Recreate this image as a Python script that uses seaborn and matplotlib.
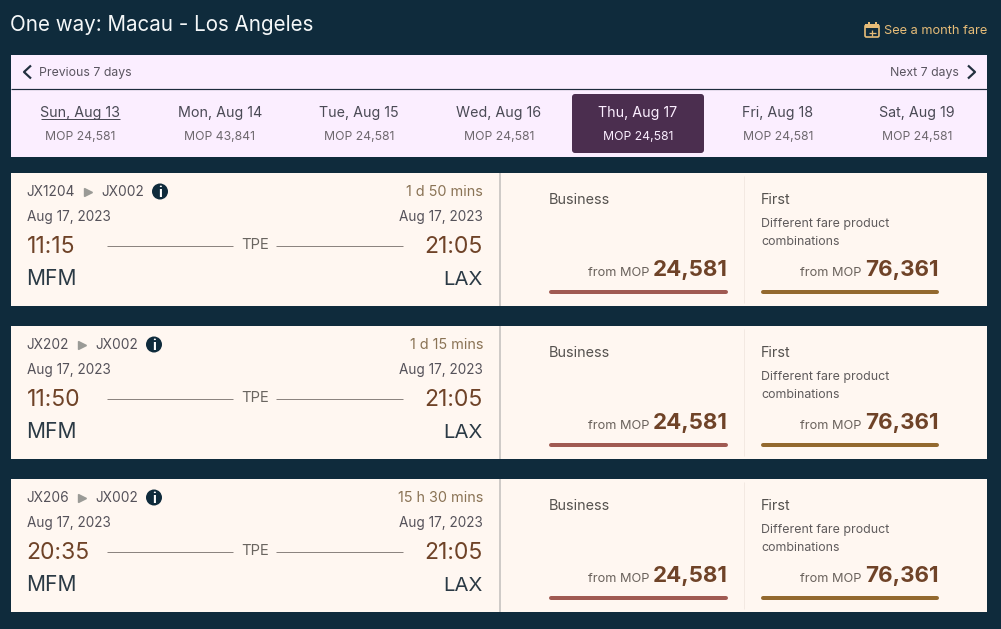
import matplotlib
matplotlib.use("Agg")
import matplotlib.pyplot as plt
from matplotlib.patches import Rectangle, FancyBboxPatch, Circle
import seaborn as sns
import pandas as pd

# ---- data ----
title = "One way: Macau - Los Angeles"
day_labels = ["Sun, Aug 13", "Mon, Aug 14", "Tue, Aug 15", "Wed, Aug 16", "Thu, Aug 17", "Fri, Aug 18", "Sat, Aug 19"]
day_fares = ["MOP 24,581", "MOP 43,841", "MOP 24,581", "MOP 24,581", "MOP 24,581", "MOP 24,581", "MOP 24,581"]
first_legs = ["JX1204", "JX202", "JX206"]
second_legs = ["JX002", "JX002", "JX002"]
durations = ["1 d 50 mins", "1 d 15 mins", "15 h 30 mins"]
departs = ["11:15", "11:50", "20:35"]
arrives = ["21:05", "21:05", "21:05"]
business_fares = ["24,581", "24,581", "24,581"]
first_fares = ["76,361", "76,361", "76,361"]

# ---- style ----
BG = "#0F2B3C"; NAV = "#FBEEFF"; CARD = "#FFF7F1"; SEL = "#4B2E4F"
BROWN = "#6F4328"; GREY = "#55525A"; DARK = "#2B3A45"
FONT = "Inter"

sns.set_theme(style="white")
plt.rcParams["font.family"] = [FONT, "DejaVu Sans"]

fig = plt.figure(figsize=(10.01, 6.29), dpi=100, facecolor=BG)
ax = fig.add_axes([0, 0, 1, 1])
ax.set_xlim(0, 1001); ax.set_ylim(629, 0); ax.axis("off")


def t(x, y, s, px, color=GREY, ha="left", weight="normal", **kw):
    return ax.text(x, y, s, fontsize=px * 0.72, color=color, ha=ha, va="baseline", weight=weight, **kw)


def rect(x0, y0, x1, y1, color, z=1):
    ax.add_patch(Rectangle((x0, y0), x1 - x0, y1 - y0, fc=color, ec="none", zorder=z))


def seg(xs, ys, color, px, cap="butt"):
    df = pd.DataFrame({"x": xs, "y": ys})
    sns.lineplot(data=df, x="x", y="y", ax=ax, color=color, linewidth=px * 0.72,
                 solid_capstyle=cap, sort=False, estimator=None, legend=False, zorder=3)
    ax.set_xlim(0, 1001); ax.set_ylim(629, 0); ax.axis("off")


# header
t(10.5, 31, title, 20.6, color="#F4F7F8")
GOLD = "#E6BC78"
t(884, 34, "See a month fare", 12.8, color=GOLD)
ax.add_patch(FancyBboxPatch((865, 25), 14, 12, boxstyle="round,pad=0,rounding_size=1.5", fc="none", ec=GOLD, lw=1.2, zorder=3))
rect(865, 24, 879, 28, GOLD, 3)
rect(868, 22, 870, 25, GOLD, 3); rect(875, 22, 877, 25, GOLD, 3)
seg([868.5, 875.5], [32.5, 32.5], GOLD, 1.3); seg([872, 872], [29.5, 35.5], GOLD, 1.3)

# date navigator
rect(11, 55, 987, 157, NAV)
seg([11, 987], [89, 89], "#1D2B3C", 1.2)
seg([31, 24, 31], [65.5, 72, 78.5], "#22303F", 2.2)
seg([968, 975, 968], [65.5, 72, 78.5], "#22303F", 2.2)
t(39, 76, "Previous 7 days", 12.3, color="#5A5560")
t(959, 76, "Next 7 days", 12.3, color="#5A5560", ha="right")
ax.add_patch(FancyBboxPatch((572, 94), 132, 59, boxstyle="round,pad=0,rounding_size=3", fc=SEL, ec="none", zorder=2))
centers = [80, 220, 359, 499, 638, 778, 917]
for i, (c, d, f) in enumerate(zip(centers, day_labels, day_fares)):
    sel = i == 4
    t(c, 117, d, 14.3, color="#FBEEFF" if sel else "#4A4A55", ha="center")
    t(c, 140, f, 12.2, color="#FBEEFF" if sel else "#6E686E", ha="center")
seg([41, 120], [118.5, 118.5], "#4A4A55", 1)

# flight cards
card_tops = [173, 326, 479]
second_x = [102, 96, 96]
arrow_x = [87.5, 81.5, 81.5]
info_x = [160, 154, 154]
for i, top in enumerate(card_tops):
    o = top - 173
    rect(11, top, 987, top + 133, CARD)
    seg([500, 500], [top, top + 133], "#CFCBC8", 2)
    seg([744, 744], [top + 3, top + 130], "#F3E9E2", 1)
    # leg row
    t(26.5, 196.3 + o, first_legs[i], 13.7, color=GREY)
    ax.plot([arrow_x[i]], [191.5 + o], marker=">", ms=6, color="#9A9A96", ls="none", zorder=3)
    t(second_x[i] - 0.5, 196.3 + o, second_legs[i], 13.7, color=GREY)
    ax.add_patch(Circle((info_x[i], 191.5 + o), 8, fc=BG, ec="none", zorder=3))
    t(info_x[i], 197 + o, "i", 14, color="#FFFFFF", ha="center", weight="bold", zorder=4)
    t(483, 196.3 + o, durations[i], 14.4, color="#8A7355", ha="right")
    # dates
    t(27, 221.3 + o, "Aug 17, 2023", 13.6, color=GREY)
    t(483, 221.3 + o, "Aug 17, 2023", 13.6, color=GREY, ha="right")
    # times
    t(26.5, 253 + o, departs[i], 23, color=BROWN)
    t(483, 253 + o, arrives[i], 23, color=BROWN, ha="right")
    t(255, 249 + o, "TPE", 14.8, color="#6A6560", ha="center")
    seg([107, 233], [246 + o, 246 + o], "#8C8480", 1)
    seg([276, 403], [246 + o, 246 + o], "#8C8480", 1)
    t(26.5, 285 + o, "MFM", 21, color=DARK)
    t(483, 285 + o, "LAX", 20.3, color=DARK, ha="right")
    # fares
    t(549, 204 + o, "Business", 14.4, color="#55524F")
    t(761, 204 + o, "First", 14.4, color="#55524F")
    t(761, 227 + o, "Different fare product", 12.4, color="#5F5B5C")
    t(761, 245 + o, "combinations", 12.4, color="#5F5B5C")
    t(649, 276 + o, "from MOP", 12.8, color="#6A625C", ha="right")
    t(861, 276 + o, "from MOP", 12.8, color="#6A625C", ha="right")
    t(727.5, 276 + o, business_fares[i], 22.3, color=BROWN, ha="right", weight="bold")
    t(938.5, 276 + o, first_fares[i], 22.3, color=BROWN, ha="right", weight="bold")
    seg([551, 726], [292 + o, 292 + o], "#A05A52", 4, cap="round")
    seg([763, 937], [292 + o, 292 + o], "#93692F", 4, cap="round")

fig.savefig("out.png", dpi=100, facecolor=BG)
